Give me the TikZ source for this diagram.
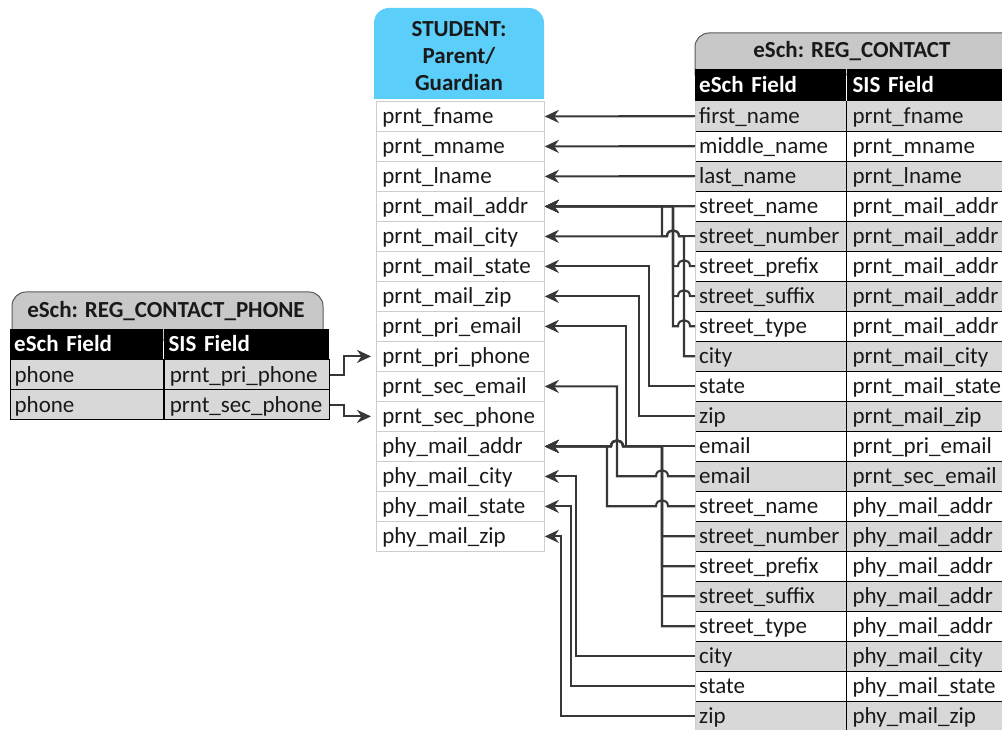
\documentclass[tikz,border=0pt]{standalone}
\usepackage{fontspec}
\setmainfont{Carlito}
\usetikzlibrary{arrows.meta,calc}
\definecolor{stublue}{RGB}{91,206,250}
\definecolor{tabgray}{RGB}{200,200,200}
\definecolor{tabline}{RGB}{90,90,90}
\definecolor{rowgray}{RGB}{216,216,216}
\definecolor{stuline}{RGB}{205,205,205}
\definecolor{txt}{RGB}{25,25,25}
\definecolor{wire}{RGB}{55,55,55}
\newcommand\rowfont{\fontsize{23}{27}\selectfont}
\begin{document}
\begin{tikzpicture}[x=1pt,y=-1pt,
  cellbox/.style={anchor=north west, minimum height=30pt, inner ysep=0pt, align=left, text height=18pt, text depth=3pt, font=\rowfont, text=txt},
  stucell/.style={cellbox, draw=stuline, line width=0.8pt, fill=white, text width=156pt, inner xsep=6pt},
  regA/.style={cellbox, text width=143pt, inner xsep=4pt},
  regB/.style={cellbox, text width=170pt, inner xsep=6pt},
  hdr/.style={cellbox, fill=black, text=white, font=\rowfont\bfseries},
  phcell/.style={cellbox, fill=rowgray, draw=black, line width=1.2pt},
  tabtitle/.style={font=\rowfont\bfseries, text=txt, inner sep=0pt},
  wirepath/.style={draw=wire, line width=2.1pt},
  tip/.style={wirepath, -{Stealth[length=14pt,width=13pt,inset=4.5pt]}},
  hopover/.style 2 args={insert path={-- ($(#1 |- #2)+(6,0)$) .. controls +(0,-8) and +(0,-8) .. ($(#1 |- #2)+(-6,0)$)}},
]
\useasboundingbox (0,0) rectangle (1002,730);
\clip (0,0) rectangle (1002,730);

% ---------- STUDENT table ----------
\fill[stublue] (374,99) -- (374,23) .. controls (374,14.7) and (380.7,8) .. (389,8) -- (529,8) .. controls (537.3,8) and (544,14.7) .. (544,23) -- (544,99) -- cycle;
\node[font=\rowfont\bfseries, align=center, text=txt] (stuhead) at (459,56) {STUDENT:\\Parent/\\Guardian};
\foreach \t [count=\i] in {prnt\_fname,prnt\_mname,prnt\_lname,prnt\_mail\_addr,prnt\_mail\_city,prnt\_mail\_state,prnt\_mail\_zip,prnt\_pri\_email,prnt\_pri\_phone,prnt\_sec\_email,prnt\_sec\_phone,phy\_mail\_addr,phy\_mail\_city,phy\_mail\_state,phy\_mail\_zip}
  \node[stucell] (s\i) at (376,{101+30*(\i-1)}) {\t};

% ---------- REG_CONTACT table ----------
\path[fill=tabgray, draw=tabline, line width=1pt] (695,75) -- (695,47) .. controls (695,39.3) and (701.3,33) .. (709,33) -- (1010,33) -- (1010,75) -- cycle;
\node[tabtitle] (regtab) at (852,51) {eSch: REG\_CONTACT};
\node[hdr, text width=143pt, inner xsep=4pt, minimum height=32pt] (rh1) at (695,69) {eSch Field};
\node[hdr, text width=170pt, inner xsep=6pt, minimum height=32pt] (rh2) at (rh1.north east) {SIS Field};
\foreach \a/\b [count=\i] in {first\_name/prnt\_fname,middle\_name/prnt\_mname,last\_name/prnt\_lname,street\_name/prnt\_mail\_addr,street\_number/prnt\_mail\_addr,street\_prefix/prnt\_mail\_addr,street\_suffix/prnt\_mail\_addr,street\_type/prnt\_mail\_addr,city/prnt\_mail\_city,state/prnt\_mail\_state,zip/prnt\_mail\_zip,email/prnt\_pri\_email,email/prnt\_sec\_email,street\_name/phy\_mail\_addr,street\_number/phy\_mail\_addr,street\_prefix/phy\_mail\_addr,street\_suffix/phy\_mail\_addr,street\_type/phy\_mail\_addr,city/phy\_mail\_city,state/phy\_mail\_state,zip/phy\_mail\_zip}
{
  \ifodd\i\def\fc{rowgray}\else\def\fc{white}\fi
  \node[regA, fill=\fc] (r\i) at (695,{101+30*(\i-1)}) {\a};
  \node[regB, fill=\fc] (q\i) at (r\i.north east) {\b};
}
\foreach \i in {1,...,21}
  \draw[black, line width=1.6pt] (r\i.south west) -- (q\i.south east);
\draw[black, line width=1.4pt] (q1.north west) -- (q21.south west);
\draw[stuline, line width=0.8pt] (r1.north west) -- (r21.south west);

% ---------- REG_CONTACT_PHONE table ----------
\path[fill=tabgray, draw=tabline, line width=1pt] (12,340) -- (12,306) .. controls (12,298.3) and (18.3,292) .. (26,292) -- (309,292) .. controls (316.7,292) and (323,298.3) .. (323,306) -- (323,340) -- cycle;
\node[tabtitle] (phtab) at (166,311) {eSch: REG\_CONTACT\_PHONE};
\node[hdr, text width=145pt, inner xsep=4pt] (ph1) at (10,329) {eSch Field};
\node[hdr, text width=155pt, inner xsep=5pt] (ph2) at (ph1.north east) {SIS Field};
\node[phcell, text width=145pt, inner xsep=4pt] (pa1) at (10,359) {phone};
\node[phcell, text width=155pt, inner xsep=5pt] (p1) at (pa1.north east) {prnt\_pri\_phone};
\node[phcell, text width=145pt, inner xsep=4pt] (pa2) at (10,389) {phone};
\node[phcell, text width=155pt, inner xsep=5pt] (p2) at (pa2.north east) {prnt\_sec\_phone};

% ---------- lanes ----------
\coordinate (xA) at (662,0);
\coordinate (xB) at (673,0);
\coordinate (xC) at (684,0);
\coordinate (xD) at (649,0);
\coordinate (xE) at (639,0);
\coordinate (xF) at (626,0);
\coordinate (xG) at (617,0);
\coordinate (xH) at (607,0);
\coordinate (xI) at (576,0);
\coordinate (xJ) at (571,0);
\coordinate (xK) at (561,0);
\coordinate (xP) at (344,0);

% ---------- connectors ----------
\draw[tip, shorten >=5pt] (p1.east) -- (xP |- p1.east) -- (xP |- s9.west) -- (s9.west);
\draw[tip, shorten >=5pt] (p2.east) -- (xP |- p2.east) -- (xP |- s11.west) -- (s11.west);

\draw[tip] (r1.west) -- (s1.east);
\draw[tip] (r2.west) -- (s2.east);
\draw[tip] (r3.west) -- (s3.east);
\draw[tip] (r4.west) -- (s4.east);
\draw[tip] (r5.west) [hopover={xB}{r5.west}] -- (xA |- r5.west) -- (xA |- s4.east) -- (s4.east);
\foreach \k in {6,7,8}
  \draw[tip] (r\k.west) [hopover={xC}{r\k.west}] -- (xB |- r\k.west) -- (xB |- s4.east) -- (s4.east);
\draw[tip] (r9.west) -- (xC |- r9.west) -- (xC |- s5.east) [hopover={xB}{s5.east}] -- (s5.east);
\draw[tip] (r10.west) -- (xD |- r10.west) -- (xD |- s6.east) -- (s6.east);
\draw[tip] (r11.west) -- (xE |- r11.west) -- (xE |- s7.east) -- (s7.east);
\draw[tip] (r12.west) -- (xF |- r12.west) -- (xF |- s8.east) -- (s8.east);
\draw[tip] (r13.west) [hopover={xA}{r13.west}] -- (xG |- r13.west) -- (xG |- s10.east) -- (s10.east);
\draw[tip] (r14.west) [hopover={xA}{r14.west}] -- (xH |- r14.west) -- (xH |- s12.east) -- (s12.east);
\foreach \k in {15,16,17,18}
  \draw[tip] (r\k.west) -- (xA |- r\k.west) -- (xA |- s12.east) [hopover={xG}{s12.east}] -- (s12.east);
\draw[tip] (r19.west) -- (xI |- r19.west) -- (xI |- s13.east) -- (s13.east);
\draw[tip] (r20.west) -- (xJ |- r20.west) -- (xJ |- s14.east) -- (s14.east);
\draw[tip] (r21.west) -- (xK |- r21.west) -- (xK |- s15.east) -- (s15.east);
\end{tikzpicture}
\end{document}
